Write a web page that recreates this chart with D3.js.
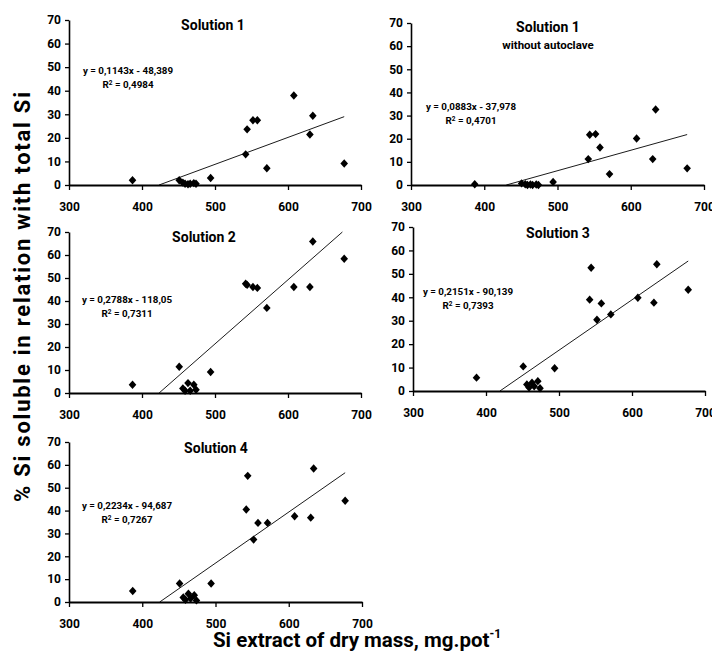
<!DOCTYPE html>
<html>
<head>
<meta charset="utf-8">
<script src="https://cdn.jsdelivr.net/npm/d3@7"></script>
<style>
  html, body { margin: 0; padding: 0; background: #fff; }
  svg { display: block; }
  svg text { font-family: Roboto, "Open Sans", sans-serif; font-weight: 700; }
</style>
</head>
<body>
<svg id="chart" width="712" height="651"></svg>
<script>
// ---- data ----
const xValues     = [387, 451, 456, 459, 463, 466, 471, 474, 494, 542, 544, 552, 558, 571, 608, 630, 634, 677];
const solution1   = [2.0, 2.0, 1.0, 0.5, 0.3, 0.5, 0.8, 0.5, 3.0, 13.0, 23.6, 27.5, 27.5, 7.1, 38.0, 21.4, 29.4, 9.1];
const solution1NA = [0.3, 0.7, 0.3, 0.0, 0.2, 0.0, 0.2, 0.0, 1.3, 11.2, 21.7, 22.0, 16.2, 4.7, 20.1, 11.2, 32.6, 7.2];
const solution2   = [3.6, 11.4, 2.0, 1.0, 4.3, 1.0, 3.6, 1.4, 9.1, 47.5, 47.0, 46.1, 45.7, 37.0, 46.1, 46.1, 65.9, 58.4];
const solution3   = [5.7, 10.5, 2.8, 1.5, 3.5, 2.0, 4.2, 1.2, 9.7, 39.0, 52.6, 30.4, 37.4, 32.7, 39.8, 37.7, 54.1, 43.2];
const solution4   = [4.8, 8.1, 2.0, 1.0, 3.6, 1.5, 3.0, 0.7, 8.1, 40.5, 55.2, 27.3, 34.6, 34.6, 37.5, 36.9, 58.4, 44.3];

const panelTitles    = ["Solution 1", "Solution 1", "Solution 2", "Solution 3", "Solution 4"];
const panelSubtitles = ["", "without autoclave", "", "", ""];
const slopes         = [0.1143, 0.0883, 0.2788, 0.2151, 0.2234];
const intercepts     = [-48.389, -37.978, -118.05, -90.139, -94.687];
const equationLabels = ["y = 0,1143x - 48,389", "y = 0,0883x - 37,978", "y = 0,2788x - 118,05", "y = 0,2151x - 90,139", "y = 0,2234x - 94,687"];
const r2Labels       = ["0,4984", "0,4701", "0,7311", "0,7393", "0,7267"];

const xTicks = [300, 400, 500, 600, 700];
const yTicks = [0, 10, 20, 30, 40, 50, 60, 70];
const xDomain = [300, 700];
const yDomain = [0, 70];

const yAxisTitle = "% Si soluble in relation with total Si";
const xAxisTitle = "Si extract of dry mass, mg.pot";
const xAxisTitleSup = "-1";

// ---- layout ----
const seriesList = [solution1, solution1NA, solution2, solution3, solution4];
const panels = [
  { x0: 69,  x1: 361, yTop: 20,  yBot: 185, titleX: 213, titleY: 30,  eqX: 128, eqY: 74  },
  { x0: 411, x1: 704, yTop: 23,  yBot: 185, titleX: 548, titleY: 32,  eqX: 471, eqY: 110 },
  { x0: 69,  x1: 361, yTop: 232, yBot: 393, titleX: 204, titleY: 242, eqX: 127, eqY: 303 },
  { x0: 413, x1: 705, yTop: 227, yBot: 391, titleX: 558, titleY: 238, eqX: 468, eqY: 295 },
  { x0: 69,  x1: 362, yTop: 442, yBot: 602, titleX: 216, titleY: 453, eqX: 127, eqY: 509 }
];

const svg = d3.select("#chart");

panels.forEach((p, i) => {
  const data = xValues.map((xv, k) => ({ x: xv, y: seriesList[i][k] }));
  const x = d3.scaleLinear().domain(xDomain).range([p.x0, p.x1]);
  const y = d3.scaleLinear().domain(yDomain).range([p.yBot, p.yTop]);
  const g = svg.append("g");

  // y axis
  const ya = g.append("g")
    .attr("transform", `translate(${p.x0},0)`)
    .call(d3.axisLeft(y).tickValues(yTicks).tickSize(4).tickSizeOuter(0).tickPadding(4));
  ya.select(".domain").attr("stroke", "#000").attr("stroke-width", 1.6);
  ya.selectAll(".tick line").attr("stroke", "#000").attr("stroke-width", 1.3);
  ya.selectAll("text").attr("font-size", 12).attr("fill", "#000").attr("font-family", null);

  // x axis
  const xa = g.append("g")
    .attr("transform", `translate(0,${p.yBot})`)
    .call(d3.axisBottom(x).tickValues(xTicks).tickSize(5).tickSizeOuter(0));
  xa.select(".domain").attr("stroke", "#000").attr("stroke-width", 2.2);
  xa.selectAll(".tick line").attr("stroke", "#000").attr("stroke-width", 1.3);
  xa.selectAll("text").attr("font-size", 12).attr("fill", "#000").attr("font-family", null)
    .attr("y", 26).attr("dy", null);

  // trend line, clipped to plot area
  const a = slopes[i], b = intercepts[i];
  const xmin = d3.min(xValues), xmax = d3.max(xValues);
  const xs = Math.max(xmin, (yDomain[0] - b) / a);
  const xe = Math.min(xmax, (yDomain[1] - b) / a);
  g.append("line")
    .attr("x1", x(xs)).attr("y1", y(a * xs + b))
    .attr("x2", x(xe)).attr("y2", y(a * xe + b))
    .attr("stroke", "#000").attr("stroke-width", 0.9);

  // markers (diamonds)
  const diamond = "M0,-4.2L3.8,0L0,4.2L-3.8,0Z";
  g.selectAll("path.pt").data(data).enter().append("path")
    .attr("class", "pt")
    .attr("d", diamond)
    .attr("transform", d => `translate(${x(d.x)},${y(d.y)})`)
    .attr("fill", "#000");

  // title
  g.append("text").attr("x", p.titleX).attr("y", p.titleY)
    .attr("text-anchor", "middle").attr("font-size", 14).attr("fill", "#000")
    .text(panelTitles[i]);
  if (panelSubtitles[i]) {
    g.append("text").attr("x", p.titleX).attr("y", p.titleY + 17)
      .attr("text-anchor", "middle").attr("font-size", 11.5).attr("fill", "#000")
      .text(panelSubtitles[i]);
  }

  // equation
  g.append("text").attr("x", p.eqX).attr("y", p.eqY)
    .attr("text-anchor", "middle").attr("font-size", 9.8).attr("fill", "#000")
    .text(equationLabels[i]);
  const r = g.append("text").attr("x", p.eqX).attr("y", p.eqY + 14)
    .attr("text-anchor", "middle").attr("font-size", 9.8).attr("fill", "#000");
  r.append("tspan").text("R");
  r.append("tspan").attr("font-size", 6.5).attr("dy", -3.5).text("2");
  r.append("tspan").attr("dy", 3.5).text(" = " + r2Labels[i]);
});

// axis titles
svg.append("text")
  .attr("transform", "translate(30,297) rotate(-90)")
  .attr("text-anchor", "middle").attr("font-size", 22).attr("fill", "#000")
  .attr("textLength", 410).attr("lengthAdjust", "spacing")
  .text(yAxisTitle);

const xt = svg.append("text")
  .attr("x", 213).attr("y", 647)
  .attr("font-size", 20.5).attr("fill", "#000");
xt.append("tspan").text(xAxisTitle);
xt.append("tspan").attr("font-size", 12).attr("dy", -9).text(xAxisTitleSup);
</script>
</body>
</html>
